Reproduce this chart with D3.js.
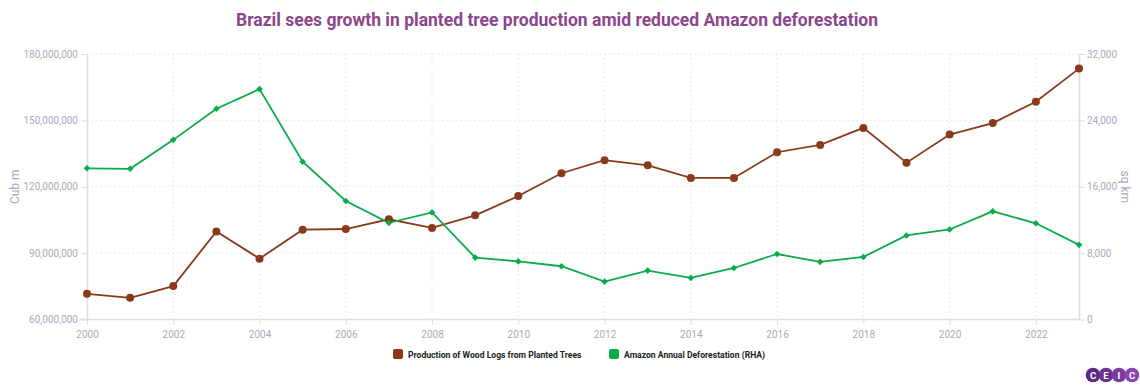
<!DOCTYPE html>
<html><head><meta charset="utf-8">
<script src="https://cdn.jsdelivr.net/npm/d3@7"></script>
<style>
html,body{margin:0;padding:0;background:#fff;}
svg{display:block;font-family:Roboto, "Noto Sans", sans-serif;}
</style></head>
<body>
<svg id="chart" width="1140" height="390"></svg>
<script>
const years = [2000,2001,2002,2003,2004,2005,2006,2007,2008,2009,2010,2011,2012,2013,2014,2015,2016,2017,2018,2019,2020,2021,2022,2023];
const woodLogs = [71.6,69.8,75.1,99.8,87.5,100.6,100.9,105.3,101.4,107.1,115.8,126.1,132.0,129.7,124.0,124.0,135.6,138.9,146.6,130.9,143.6,148.8,158.4,173.4].map(v=>v*1e6);
const deforestation = [18226,18165,21651,25396,27772,19014,14286,11651,12911,7464,7000,6418,4571,5891,5012,6207,7893,6947,7536,10129,10851,13038,11594,9001];
const leftTicks = [60e6,90e6,120e6,150e6,180e6];
const rightTicks = [0,8000,16000,24000,32000];
const xTicks = [2000,2002,2004,2006,2008,2010,2012,2014,2016,2018,2020,2022];
const seriesNames = ["Production of Wood Logs from Planted Trees","Amazon Annual Deforestation (RHA)"];
const colors = ["#8a3a1b","#0bab4b"];
const title = "Brazil sees growth in planted tree production amid reduced Amazon deforestation";

const svg = d3.select("#chart");
const L = 87, R = 1079, T = 54, B = 319.5;
const x = d3.scaleLinear().domain([2000,2023]).range([L,R]);
const yL = d3.scaleLinear().domain([60e6,180e6]).range([B,T]);
const yR = d3.scaleLinear().domain([0,32000]).range([B,T]);
const axisCol = "#dcdce4", textCol = "#a9a9bb";

svg.append("text").attr("x",557).attr("y",26).attr("text-anchor","middle")
  .attr("font-size",17.5).attr("font-weight",700).attr("fill","#8b468c").text(title);

// grid
const g = svg.append("g");
g.selectAll(".hg").data(leftTicks.slice(1)).join("line")
  .attr("x1",L).attr("x2",R).attr("y1",d=>yL(d)).attr("y2",d=>yL(d))
  .attr("stroke","#e2e2e8").attr("stroke-dasharray","1.5,3");
g.selectAll(".vg").data(xTicks.slice(1)).join("line")
  .attr("y1",T).attr("y2",B).attr("x1",d=>x(d)).attr("x2",d=>x(d))
  .attr("stroke","#e2e2e8").attr("stroke-dasharray","1.5,3");

function styleAxis(sel){
  sel.select(".domain").attr("stroke",axisCol).attr("stroke-width",1.5);
  sel.selectAll(".tick line").attr("stroke",axisCol);
  sel.selectAll(".tick text").attr("fill",textCol).attr("font-size",10).attr("font-family","Roboto");
}
const axL = svg.append("g").attr("transform",`translate(${L},0)`)
  .call(d3.axisLeft(yL).tickValues(leftTicks).tickFormat(d3.format(",")).tickSize(6).tickSizeOuter(0).tickPadding(3));
styleAxis(axL);
const axR = svg.append("g").attr("transform",`translate(${R},0)`)
  .call(d3.axisRight(yR).tickValues(rightTicks).tickFormat(d3.format(",")).tickSize(6).tickSizeOuter(0).tickPadding(2));
styleAxis(axR);
const axB = svg.append("g").attr("transform",`translate(0,${B})`)
  .call(d3.axisBottom(x).tickValues(xTicks).tickFormat(d3.format("d")).tickSize(5).tickSizeOuter(0).tickPadding(6));
styleAxis(axB);
axB.select(".domain").attr("d",`M${L-7},0H${R}`);

svg.append("text").attr("transform",`translate(19,${(T+B)/2}) rotate(-90)`).attr("text-anchor","middle")
  .attr("font-size",12).attr("fill",textCol).text("Cub m");
svg.append("text").attr("transform",`translate(1121,${(T+B)/2}) rotate(90)`).attr("text-anchor","middle")
  .attr("font-size",12).attr("fill",textCol).text("sq km");

// lines
const lineL = d3.line().x((d,i)=>x(years[i])).y(d=>yL(d));
const lineR = d3.line().x((d,i)=>x(years[i])).y(d=>yR(d));
svg.append("path").datum(woodLogs).attr("d",lineL).attr("fill","none").attr("stroke",colors[0]).attr("stroke-width",1.8);
svg.append("path").datum(deforestation).attr("d",lineR).attr("fill","none").attr("stroke",colors[1]).attr("stroke-width",1.8);
svg.append("g").selectAll("circle").data(woodLogs).join("circle")
  .attr("cx",(d,i)=>x(years[i])).attr("cy",d=>yL(d)).attr("r",4).attr("fill",colors[0]);
const dia = d3.symbol().type(d3.symbolSquare).size(22);
svg.append("g").selectAll("path").data(deforestation).join("path")
  .attr("transform",(d,i)=>`translate(${x(years[i])},${yR(d)}) rotate(45)`).attr("d",dia).attr("fill",colors[1]);

// legend
const leg = [{x:393,name:seriesNames[0],c:colors[0]},{x:609,name:seriesNames[1],c:colors[1]}];
const lg = svg.append("g").selectAll("g").data(leg).join("g").attr("transform",d=>`translate(${d.x},349)`);
lg.append("rect").attr("width",10).attr("height",10).attr("rx",2).attr("fill",d=>d.c);
lg.append("text").attr("x",15).attr("y",8.5).attr("font-size",8.6).attr("font-weight",700).attr("fill","#222")
  .attr("font-family","Roboto").text(d=>d.name);

// logo
const logo = svg.append("g").attr("transform","translate(1093,375)");
const letters = ["C","E","I","C"];
const logoCols = ["#5a2a82","#6a3391","#7a3ca0","#8a46ad"];
logo.selectAll("circle").data(letters).join("circle").attr("cx",(d,i)=>i*13).attr("cy",0).attr("r",7.3).attr("fill",(d,i)=>logoCols[i]);
logo.selectAll("text").data(letters).join("text").attr("x",(d,i)=>i*13).attr("y",3.5).attr("text-anchor","middle")
  .attr("font-size",9.5).attr("font-weight",700).attr("fill","#fff").text(d=>d);
</script>
</body></html>
